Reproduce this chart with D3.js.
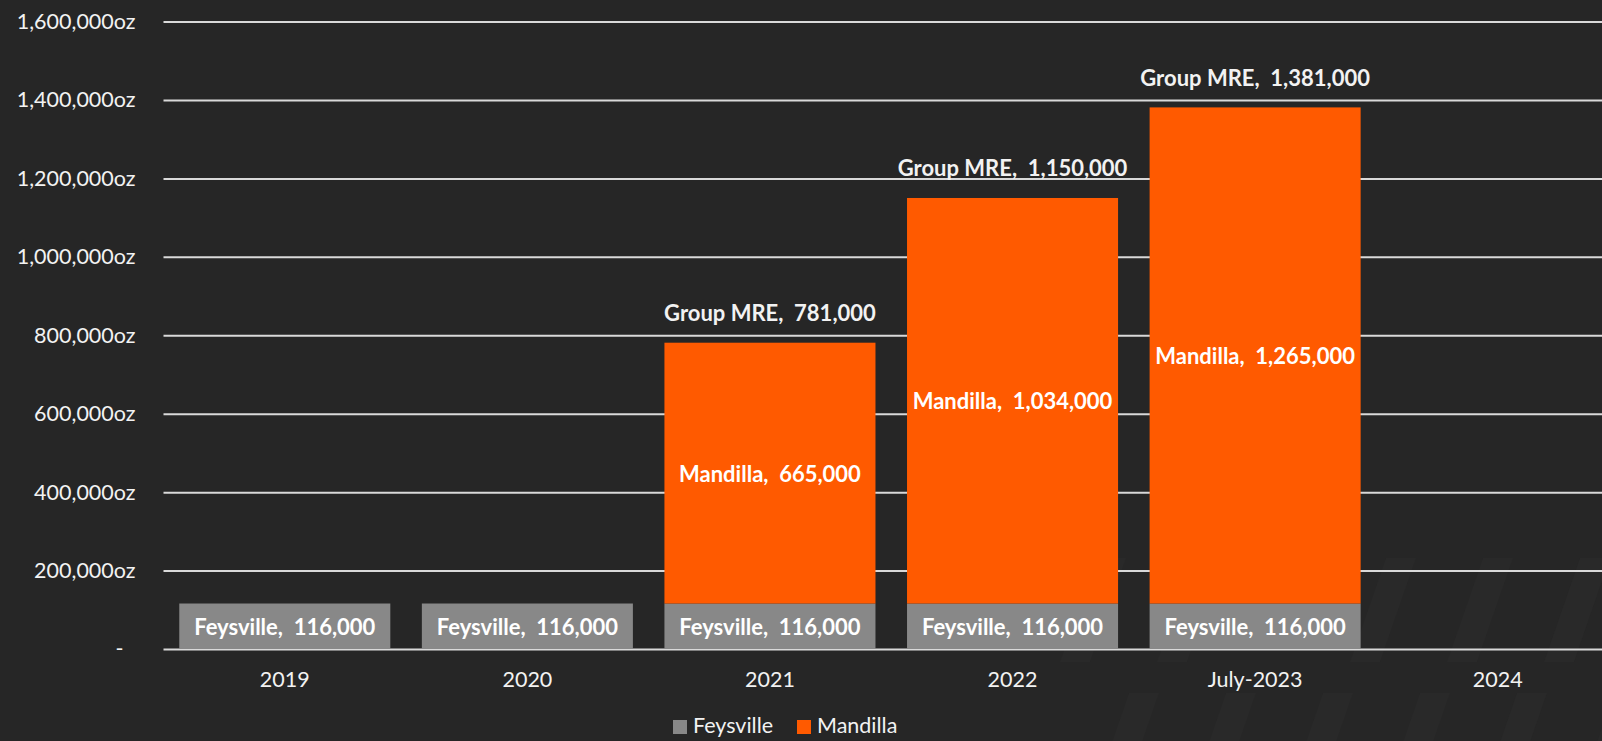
<!DOCTYPE html>
<html lang="en">
<head>
  <title>Group MRE</title>
  <script src="https://cdn.jsdelivr.net/npm/d3@7"></script>
  <style>
    body { margin: 0; background: #262626; overflow: hidden; }
    text { font-family: Lato, "Open Sans", sans-serif; }
  </style>
</head>
<body>
  <script>
    // the data
    const categories = ["2019", "2020", "2021", "2022", "July-2023", "2024"];
    const feysville = [116000, 116000, 116000, 116000, 116000, null];
    const mandilla = [0, 0, 665000, 1034000, 1265000, null];
    const yTicks = [0, 200000, 400000, 600000, 800000, 1000000, 1200000, 1400000, 1600000];
    const seriesNames = ["Feysville", "Mandilla"];
    const seriesColors = ["#888888", "#ff5a00"];

    const width = 1602, height = 741;
    const plot = { left: 163.5, right: 1619, top: 21.5, bottom: 649 };

    let svg = d3.select("body").append("svg")
      .attr("width", width)
      .attr("height", height);

    svg.append("rect").attr("width", width).attr("height", height).attr("fill", "#262626");

    // faint background pattern (decoration)
    let deco = svg.append("g").attr("fill", "#292929");
    const rows = [{ y: 558, x0: 1350, n: 3 }, { y: 693, x0: 1093, n: 6 }, { y: 558, x0: 1060, n: 2 }];
    rows.forEach(r => {
      for (let i = 0; i < r.n; i++) {
        let x = r.x0 + i * 97;
        deco.append("path")
          .attr("d", `M${x + 36},${r.y} L${x + 66},${r.y} L${x + 30},${r.y + 104} L${x},${r.y + 104} Z`);
      }
    });

    // scales
    let xScale = d3.scaleBand()
      .domain(categories)
      .range([plot.left, plot.right])
      .paddingInner(0.13)
      .paddingOuter(0.065);
    let yScale = d3.scaleLinear()
      .domain([0, 1600000])
      .range([plot.bottom, plot.top]);

    // gridlines
    let grid = svg.append("g")
      .attr("transform", `translate(${plot.left}, 0)`)
      .call(d3.axisLeft(yScale).tickValues(yTicks).tickSize(-(plot.right - plot.left)).tickFormat(""));
    grid.select(".domain").remove();
    grid.selectAll("line").attr("stroke", "#d9d9d9").attr("stroke-width", 2);

    // y axis labels
    let fmt = d3.format(",");
    let yAxisG = svg.append("g")
      .attr("transform", `translate(${plot.left}, 0)`)
      .call(d3.axisLeft(yScale).tickValues(yTicks).tickSize(0).tickPadding(28)
        .tickFormat(d => d === 0 ? "-" : fmt(d) + "oz"));
    yAxisG.select(".domain").remove();
    yAxisG.selectAll("text")
      .attr("fill", "#f2f2f2")
      .style("font-size", "21.5px")
      .attr("dx", d => d === 0 ? -12 : 0);

    // stacked data
    let stacked = categories.map((c, i) => ({
      cat: c,
      f: feysville[i],
      m: mandilla[i],
      total: (feysville[i] || 0) + (mandilla[i] || 0)
    }));

    // Feysville bars
    let bars = svg.append("g");
    bars.selectAll(".fey").data(stacked.filter(d => d.f)).join("rect")
      .attr("class", "fey")
      .attr("x", d => xScale(d.cat))
      .attr("y", d => yScale(d.f))
      .attr("width", xScale.bandwidth())
      .attr("height", d => yScale(0) - yScale(d.f))
      .attr("fill", seriesColors[0]);

    // Mandilla bars
    bars.selectAll(".man").data(stacked.filter(d => d.m)).join("rect")
      .attr("class", "man")
      .attr("x", d => xScale(d.cat))
      .attr("y", d => yScale(d.f + d.m))
      .attr("width", xScale.bandwidth())
      .attr("height", d => yScale(d.f) - yScale(d.f + d.m))
      .attr("fill", seriesColors[1]);

    // labels inside bars (two spaces after the comma, as in the original)
    const gap = ",\u00a0 ";
    let labels = svg.append("g")
      .attr("fill", "#ffffff")
      .style("font-size", "22px")
      .style("font-weight", "bold")
      .attr("text-anchor", "middle")
      .attr("dominant-baseline", "central");
    labels.selectAll(".feyLabel").data(stacked.filter(d => d.f)).join("text")
      .attr("x", d => xScale(d.cat) + xScale.bandwidth() / 2)
      .attr("y", d => yScale(d.f / 2))
      .text(d => seriesNames[0] + gap + fmt(d.f));
    labels.selectAll(".manLabel").data(stacked.filter(d => d.m)).join("text")
      .attr("x", d => xScale(d.cat) + xScale.bandwidth() / 2)
      .attr("y", d => yScale(d.f + d.m / 2))
      .text(d => seriesNames[1] + gap + fmt(d.m));
    // group totals above bars
    labels.selectAll(".totLabel").data(stacked.filter(d => d.m)).join("text")
      .attr("x", d => xScale(d.cat) + xScale.bandwidth() / 2)
      .attr("y", d => yScale(d.total) - 30)
      .attr("fill", "#f2f2f2")
      .text(d => "Group MRE" + gap + fmt(d.total));

    // x axis labels
    let xAxisG = svg.append("g")
      .attr("transform", `translate(0, ${plot.bottom})`)
      .call(d3.axisBottom(xScale).tickSize(0).tickPadding(23));
    xAxisG.select(".domain").remove();
    xAxisG.selectAll("text")
      .attr("fill", "#f2f2f2")
      .style("font-size", "21.5px");

    // legend (kept just inside the bottom edge)
    let legend = svg.append("g").attr("transform", "translate(673, 720)");
    const legendX = [0, 124];
    seriesNames.forEach((name, i) => {
      let item = legend.append("g").attr("transform", `translate(${legendX[i]}, 0)`);
      item.append("rect").attr("width", 14).attr("height", 14).attr("fill", seriesColors[i]);
      item.append("text").attr("x", 20).attr("y", 13)
        .attr("fill", "#f2f2f2")
        .style("font-size", "21.5px")
        .text(name);
    });
  </script>
</body>
</html>
